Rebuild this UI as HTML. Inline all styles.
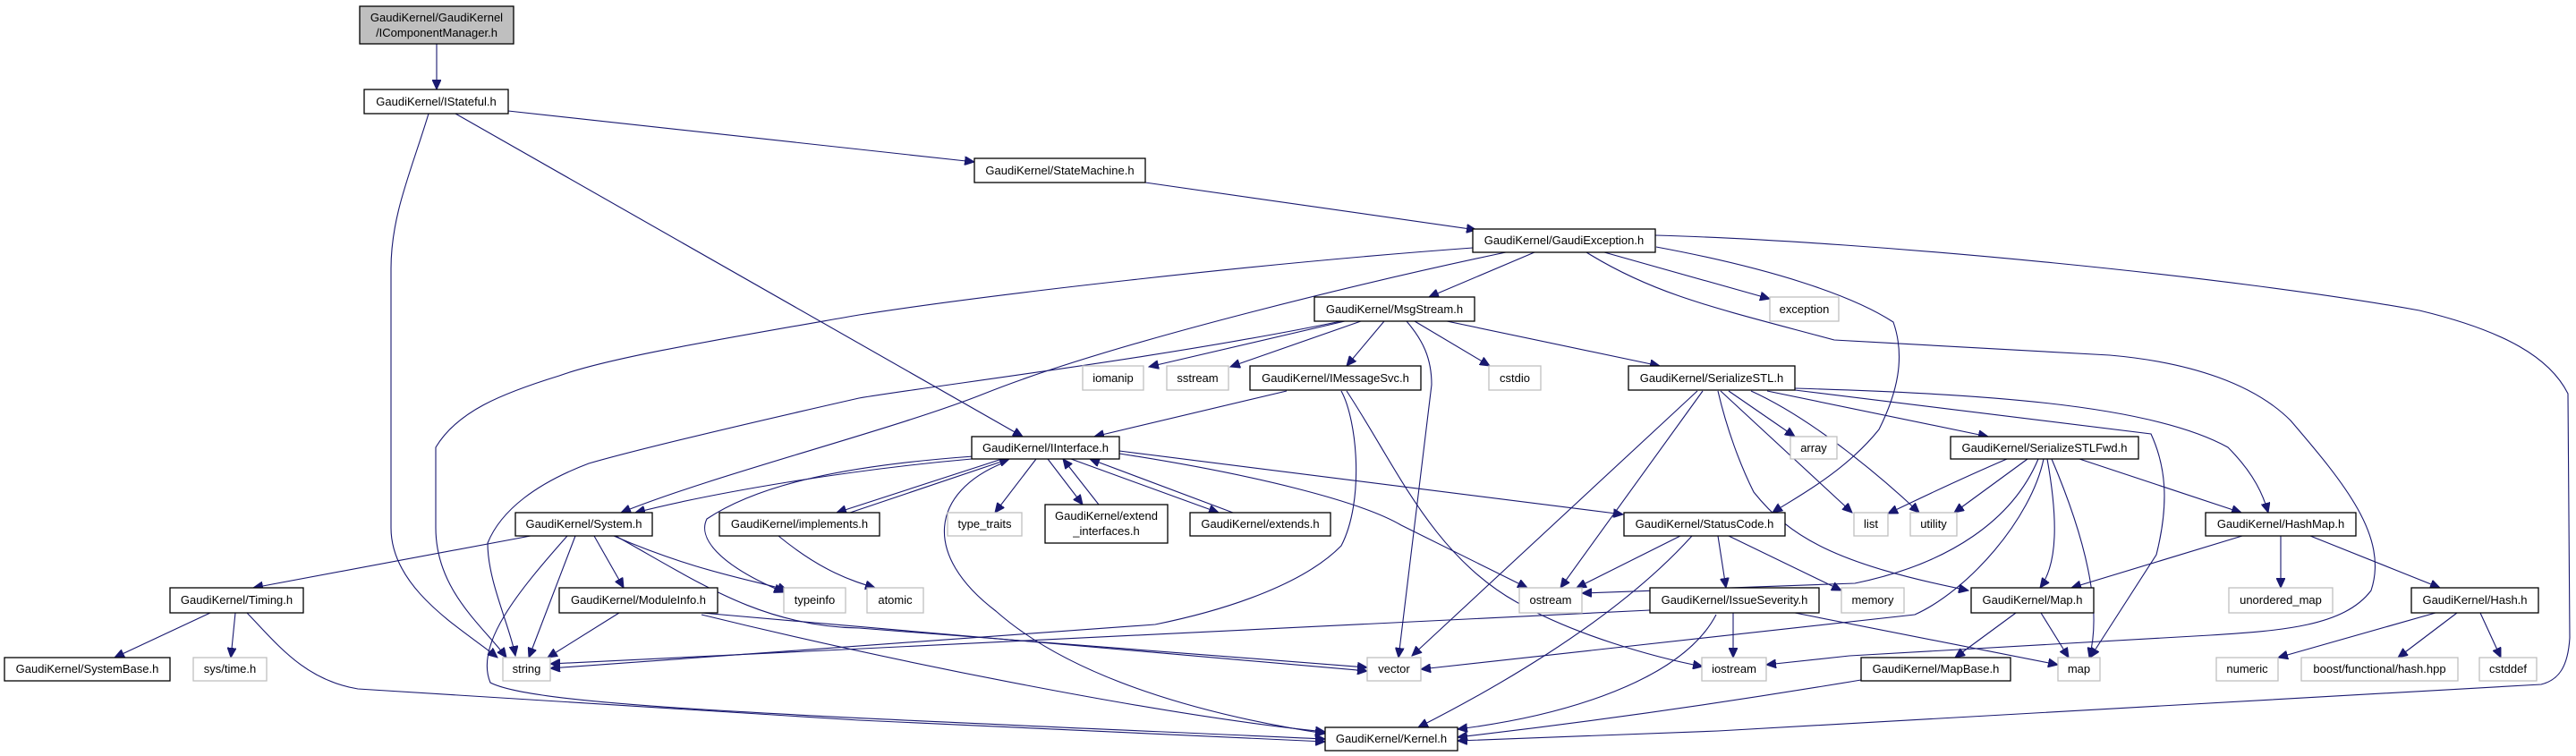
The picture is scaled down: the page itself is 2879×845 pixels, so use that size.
<!DOCTYPE html>
<html><head><meta charset="utf-8"><style>
html,body{margin:0;padding:0;background:#fff;}
svg{display:block;}
text{font-family:"Liberation Sans",Helvetica,sans-serif;font-size:13px;fill:#000;}
.n{fill:#fff;stroke:#000;stroke-width:1.3;}
.g{fill:#fff;stroke:#bfbfbf;stroke-width:1.3;}
.e{fill:none;stroke:#191970;stroke-width:1.1;marker-end:url(#a);}
</style></head><body>
<svg width="2879" height="845" viewBox="0 0 2879 845" xmlns="http://www.w3.org/2000/svg">
<defs><marker id="a" markerUnits="userSpaceOnUse" markerWidth="12" markerHeight="10" refX="11" refY="5" orient="auto"><path d="M0,0 L11,5 L0,10 z" fill="#191970" stroke="#191970"/></marker></defs>
<g>
<path class="e" d="M488,49 L488,100"/>
<path class="e" d="M568,124 C800,150 1000,170 1089,181"/>
<path class="e" d="M479,127 C460,190 437,240 437,300 L437,590 C437,660 520,705 556,735"/>
<path class="e" d="M509,127 L1143,488"/>
<path class="e" d="M1280,204 L1650,257"/>
<path class="e" d="M1715,282 L1597,332"/>
<path class="e" d="M1646,277 C1400,295 1100,330 960,352 C800,380 680,400 625,420 C560,440 511,460 487,500 L487,590 C487,660 540,700 566,735"/>
<path class="e" d="M1683,282 C1550,310 1250,380 1100,440 C1000,480 800,530 694,573"/>
<path class="e" d="M1793,282 L1978,334"/>
<path class="e" d="M1851,276 C1980,300 2070,330 2116,360 C2130,400 2120,440 2100,480 C2060,530 2000,560 1981,573"/>
<path class="e" d="M1773,282 C1850,330 1920,345 2050,380 L2358,397 C2450,405 2520,430 2560,470 C2620,540 2670,600 2650,660 C2620,700 2550,705 2470,710 L2067,733 L1974,743"/>
<path class="e" d="M1850,263 C2100,270 2500,310 2704,347 C2800,370 2850,400 2870,440 L2872,713 C2870,745 2860,760 2840,765 L1920,817 L1629,828"/>
<path class="e" d="M1503,359 L1284,410"/>
<path class="e" d="M1521,359 L1375,410"/>
<path class="e" d="M1547,359 L1505,409"/>
<path class="e" d="M1581,359 L1665,409"/>
<path class="e" d="M1617,359 L1855,409"/>
<path class="e" d="M1572,359 C1590,380 1600,400 1600,430 L1563,735"/>
<path class="e" d="M1499,359 C1300,400 1050,430 960,445 C850,470 720,500 658,518 C600,540 560,570 545,607 C545,650 570,700 576,733"/>
<path class="e" d="M1438,437 L1223,488"/>
<path class="e" d="M1499,437 C1517,470 1525,560 1499,610 C1460,650 1380,680 1291,698 L615,747"/>
<path class="e" d="M1505,437 C1560,520 1600,620 1695,673 C1760,710 1850,735 1903,745"/>
<path class="e" d="M1897,437 L1578,733"/>
<path class="e" d="M1903,437 L1744,657"/>
<path class="e" d="M1932,437 L2006,488"/>
<path class="e" d="M1923,437 L2070,573"/>
<path class="e" d="M1957,437 C2030,470 2110,540 2145,573"/>
<path class="e" d="M1975,437 L2222,488"/>
<path class="e" d="M2006,436 L2404,485 C2420,520 2425,560 2410,620 L2336,735"/>
<path class="e" d="M2006,434 C2200,440 2400,450 2490,500 C2520,530 2530,555 2535,573"/>
<path class="e" d="M1920,437 C1930,480 1945,520 1960,550 C2000,600 2050,630 2200,660"/>
<path class="e" d="M2243,513 C2180,540 2140,560 2110,574"/>
<path class="e" d="M2266,513 L2184,573"/>
<path class="e" d="M2278,513 C2250,580 2180,630 2073,652 L1768,663"/>
<path class="e" d="M2284,513 C2270,580 2200,660 2140,687 L1588,748"/>
<path class="e" d="M2288,513 C2300,580 2300,630 2280,657"/>
<path class="e" d="M2293,513 C2330,600 2350,680 2335,735"/>
<path class="e" d="M2324,513 L2505,573"/>
<path class="e" d="M2506,599 L2315,657"/>
<path class="e" d="M2549,599 L2549,657"/>
<path class="e" d="M2582,599 L2727,657"/>
<path class="e" d="M2722,685 L2546,735"/>
<path class="e" d="M2746,685 L2680,735"/>
<path class="e" d="M2772,685 L2795,735"/>
<path class="e" d="M2253,685 L2185,735"/>
<path class="e" d="M2281,685 L2312,735"/>
<path class="e" d="M2080,760 C1900,790 1750,810 1629,824"/>
<path class="e" d="M1878,599 L1762,657"/>
<path class="e" d="M1891,599 C1800,700 1650,780 1585,813"/>
<path class="e" d="M1932,599 L2058,660"/>
<path class="e" d="M1920,599 L1929,657"/>
<path class="e" d="M1844,682 L615,742"/>
<path class="e" d="M1937,685 L1937,735"/>
<path class="e" d="M2006,685 L2300,743"/>
<path class="e" d="M1918,687 C1880,760 1750,800 1629,815"/>
<path class="e" d="M1086,513 C950,525 800,550 710,573"/>
<path class="e" d="M1088,510 C950,520 850,540 790,580 C780,600 800,630 876,662"/>
<path class="e" d="M1158,513 L1112,573"/>
<path class="e" d="M1171,513 L1210,564"/>
<path class="e" d="M1228,564 L1188,513"/>
<path class="e" d="M1197,513 L1362,573"/>
<path class="e" d="M1378,573 L1218,513"/>
<path class="e" d="M1120,513 L935,573"/>
<path class="e" d="M950,573 L1128,513"/>
<path class="e" d="M870,599 C920,640 955,650 978,657"/>
<path class="e" d="M1251,507 C1400,530 1520,560 1566,587 L1707,657"/>
<path class="e" d="M1251,504 L1814,575"/>
<path class="e" d="M1122,517 C1040,550 1030,620 1113,683 C1200,760 1350,800 1481,820"/>
<path class="e" d="M593,599 L283,657"/>
<path class="e" d="M664,599 L697,657"/>
<path class="e" d="M686,599 C780,640 850,650 880,660"/>
<path class="e" d="M643,599 L591,735"/>
<path class="e" d="M634,599 C580,660 530,720 548,763 C600,790 900,800 1481,826"/>
<path class="e" d="M688,599 C780,650 850,700 960,702 L1528,746"/>
<path class="e" d="M235,685 L128,735"/>
<path class="e" d="M263,685 L258,735"/>
<path class="e" d="M276,685 C310,720 340,760 400,770 L960,805 L1481,829"/>
<path class="e" d="M692,685 L612,735"/>
<path class="e" d="M784,685 L1528,750"/>
<path class="e" d="M784,687 C1000,740 1300,800 1481,818"/>
</g>
<g text-anchor="middle">
<rect x="402" y="7" width="172" height="42" fill="#bfbfbf" stroke="#000" stroke-width="1.3"/><text x="488" y="24">GaudiKernel/GaudiKernel</text><text x="488" y="41">/IComponentManager.h</text>
<rect class="n" x="407" y="100" width="161" height="27"/><text x="487.5" y="118">GaudiKernel/IStateful.h</text>
<rect class="n" x="1089" y="177" width="191" height="27"/><text x="1184.5" y="195">GaudiKernel/StateMachine.h</text>
<rect class="n" x="1646" y="256" width="204" height="26"/><text x="1748" y="273">GaudiKernel/GaudiException.h</text>
<rect class="n" x="1469" y="332" width="179" height="27"/><text x="1558.5" y="350">GaudiKernel/MsgStream.h</text>
<rect class="g" x="1978" y="332" width="77" height="27"/><text x="2016.5" y="350">exception</text>
<rect class="g" x="1210" y="409" width="68" height="27"/><text x="1244" y="427">iomanip</text>
<rect class="g" x="1304" y="409" width="69" height="27"/><text x="1338.5" y="427">sstream</text>
<rect class="n" x="1397" y="409" width="191" height="27"/><text x="1492.5" y="427">GaudiKernel/IMessageSvc.h</text>
<rect class="g" x="1664" y="409" width="58" height="27"/><text x="1693" y="427">cstdio</text>
<rect class="n" x="1820" y="409" width="186" height="27"/><text x="1913" y="427">GaudiKernel/SerializeSTL.h</text>
<rect class="n" x="1086" y="488" width="165" height="25"/><text x="1168.5" y="505">GaudiKernel/IInterface.h</text>
<rect class="g" x="2001" y="488" width="52" height="25"/><text x="2027" y="505">array</text>
<rect class="n" x="2180" y="488" width="210" height="25"/><text x="2285" y="505">GaudiKernel/SerializeSTLFwd.h</text>
<rect class="n" x="576" y="573" width="153" height="26"/><text x="652.5" y="590">GaudiKernel/System.h</text>
<rect class="n" x="804" y="573" width="179" height="26"/><text x="893.5" y="590">GaudiKernel/implements.h</text>
<rect class="g" x="1059" y="573" width="83" height="26"/><text x="1100.5" y="590">type_traits</text>
<rect class="n" x="1168" y="564" width="137" height="43"/><text x="1236.5" y="581">GaudiKernel/extend</text><text x="1236.5" y="598">_interfaces.h</text>
<rect class="n" x="1330" y="573" width="157" height="26"/><text x="1408.5" y="590">GaudiKernel/extends.h</text>
<rect class="n" x="1815" y="573" width="180" height="26"/><text x="1905" y="590">GaudiKernel/StatusCode.h</text>
<rect class="g" x="2072" y="573" width="38" height="26"/><text x="2091" y="590">list</text>
<rect class="g" x="2135" y="573" width="52" height="26"/><text x="2161" y="590">utility</text>
<rect class="n" x="2465" y="573" width="168" height="26"/><text x="2549" y="590">GaudiKernel/HashMap.h</text>
<rect class="n" x="190" y="657" width="149" height="28"/><text x="264.5" y="675">GaudiKernel/Timing.h</text>
<rect class="n" x="625" y="657" width="177" height="28"/><text x="713.5" y="675">GaudiKernel/ModuleInfo.h</text>
<rect class="g" x="876" y="657" width="69" height="28"/><text x="910.5" y="675">typeinfo</text>
<rect class="g" x="969" y="657" width="63" height="28"/><text x="1000.5" y="675">atomic</text>
<rect class="g" x="1698" y="657" width="70" height="28"/><text x="1733" y="675">ostream</text>
<rect class="n" x="1844" y="657" width="189" height="28"/><text x="1938.5" y="675">GaudiKernel/IssueSeverity.h</text>
<rect class="g" x="2058" y="657" width="70" height="28"/><text x="2093" y="675">memory</text>
<rect class="n" x="2203" y="657" width="137" height="28"/><text x="2271.5" y="675">GaudiKernel/Map.h</text>
<rect class="g" x="2491" y="657" width="116" height="28"/><text x="2549" y="675">unordered_map</text>
<rect class="n" x="2695" y="657" width="142" height="28"/><text x="2766" y="675">GaudiKernel/Hash.h</text>
<rect class="n" x="5" y="735" width="185" height="26"/><text x="97.5" y="752">GaudiKernel/SystemBase.h</text>
<rect class="g" x="216" y="735" width="82" height="26"/><text x="257" y="752">sys/time.h</text>
<rect class="g" x="562" y="735" width="53" height="26"/><text x="588.5" y="752">string</text>
<rect class="g" x="1528" y="735" width="60" height="26"/><text x="1558" y="752">vector</text>
<rect class="g" x="1902" y="735" width="72" height="26"/><text x="1938" y="752">iostream</text>
<rect class="n" x="2080" y="735" width="167" height="26"/><text x="2163.5" y="752">GaudiKernel/MapBase.h</text>
<rect class="g" x="2300" y="735" width="47" height="26"/><text x="2323.5" y="752">map</text>
<rect class="g" x="2477" y="735" width="69" height="26"/><text x="2511.5" y="752">numeric</text>
<rect class="g" x="2572" y="735" width="175" height="26"/><text x="2659.5" y="752">boost/functional/hash.hpp</text>
<rect class="g" x="2771" y="735" width="64" height="26"/><text x="2803" y="752">cstddef</text>
<rect class="n" x="1481" y="813" width="148" height="26"/><text x="1555" y="830">GaudiKernel/Kernel.h</text>
</g>
</svg>
</body></html>
